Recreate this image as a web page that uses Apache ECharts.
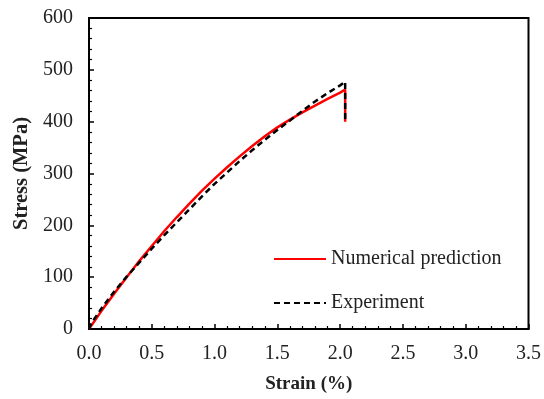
<!DOCTYPE html>
<html>
<head>
<meta charset="utf-8">
<script src="https://cdn.jsdelivr.net/npm/echarts@6/dist/echarts.min.js"></script>
<style>html,body{margin:0;padding:0;background:#fff;}#c{width:544px;height:399px;}</style>
</head>
<body>
<div id="c"></div>
<script>
const numStrain = [0, 0.1, 0.2, 0.3, 0.4, 0.5, 0.6, 0.7, 0.8, 0.9, 1.0, 1.1, 1.2, 1.3, 1.4, 1.5, 1.6, 1.7, 1.8, 1.9, 2.0, 2.04, 2.04];
const numStress = [0, 35, 68, 100, 131, 160, 189, 216, 242, 267, 290, 312, 333, 353, 372, 389, 404, 418, 431, 444, 456, 462, 400];
const expStrain = [0, 0.02, 0.05, 0.1, 0.2, 0.3, 0.4, 0.5, 0.6, 0.7, 0.8, 0.9, 1.0, 1.1, 1.2, 1.3, 1.4, 1.5, 1.6, 1.7, 1.8, 1.9, 2.0, 2.04, 2.04];
const expStress = [0, 12, 22, 40, 72, 101, 128, 155, 181, 206, 231, 256, 280, 302, 324, 345, 365, 384, 402, 421, 439, 455, 470, 477, 400];
const seriesNames = ['Numerical prediction', 'Experiment'];
const xTicks = [0, 0.5, 1.0, 1.5, 2.0, 2.5, 3.0, 3.5];
const yTicks = [0, 100, 200, 300, 400, 500, 600];

const pairs = (xs, ys) => xs.map((x, i) => [x, ys[i]]);
const font = 'Liberation Serif';
const chart = echarts.init(document.getElementById('c'));
chart.setOption({
  animation: false,
  grid: { left: 89, top: 18, right: 14, bottom: 66, show: true, borderColor: '#000', borderWidth: 2, backgroundColor: 'transparent' },
  legend: {
    show: true, orient: 'vertical', left: 268, top: 244, itemWidth: 52, itemHeight: 14, itemGap: 24,
    itemStyle: { opacity: 0 },
    textStyle: { fontFamily: font, fontSize: 20, color: '#222' },
    data: seriesNames
  },
  xAxis: {
    type: 'value', min: xTicks[0], max: xTicks[xTicks.length - 1], interval: 0.5,
    name: 'Strain (%)', nameLocation: 'middle', nameGap: 46,
    nameTextStyle: { fontFamily: font, fontSize: 19, fontWeight: 'bold', color: '#222' },
    axisLine: { onZero: false, lineStyle: { color: '#000', width: 2 } },
    axisTick: { inside: true, length: 5, lineStyle: { color: '#000', width: 1.5 } },
    minorTick: { show: true, splitNumber: 5, length: 3, lineStyle: { color: '#000', width: 1.2 } },
    axisLabel: { fontFamily: font, fontSize: 20, color: '#222', margin: 15, formatter: v => v.toFixed(1) },
    splitLine: { show: false }
  },
  yAxis: {
    type: 'value', min: yTicks[0], max: yTicks[yTicks.length - 1], interval: 100,
    name: 'Stress (MPa)', nameLocation: 'middle', nameGap: 53,
    nameTextStyle: { fontFamily: font, fontSize: 20.5, fontWeight: 'bold', color: '#222' },
    axisLine: { onZero: false, lineStyle: { color: '#000', width: 2 } },
    axisTick: { inside: true, length: 5, lineStyle: { color: '#000', width: 1.5 } },
    minorTick: { show: true, splitNumber: 5, length: 3, lineStyle: { color: '#000', width: 1.2 } },
    axisLabel: { fontFamily: font, fontSize: 20, color: '#222', margin: 16 },
    splitLine: { show: false }
  },
  series: [
    { name: seriesNames[0], type: 'line', data: pairs(numStrain, numStress), showSymbol: false, symbol: 'none',
      lineStyle: { color: '#ff0000', width: 2.5 }, itemStyle: { color: '#ff0000' } },
    { name: seriesNames[1], type: 'line', data: pairs(expStrain, expStress), showSymbol: false, symbol: 'none',
      lineStyle: { color: '#000', width: 2.5, type: [6, 4] }, itemStyle: { color: '#000' } }
  ]
});
</script>
</body>
</html>
